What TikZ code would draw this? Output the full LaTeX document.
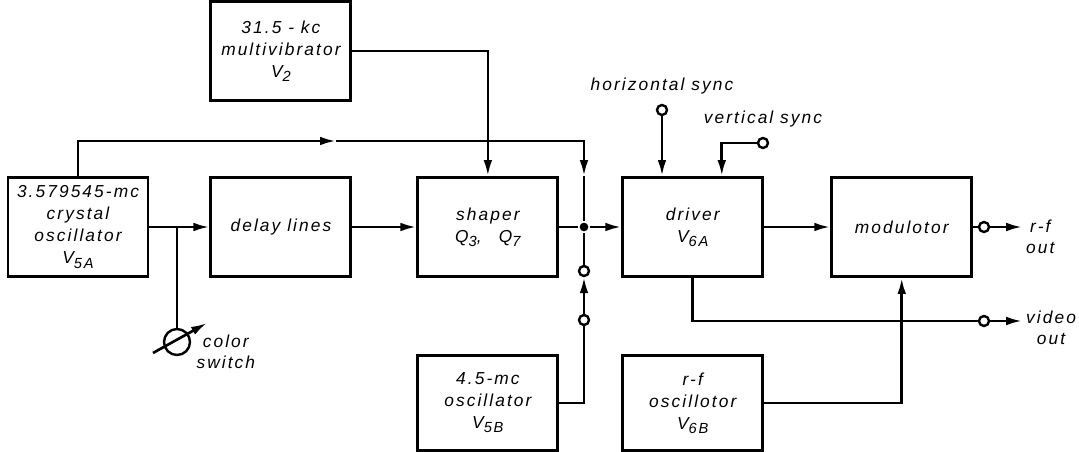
\documentclass[tikz,border=0pt]{standalone}
\usepackage{fontspec}
\newfontfamily\letfont{Liberation Sans}[LetterSpace=12]
\usetikzlibrary{arrows.meta, positioning, calc}
\newcommand\lowidx[1]{\raisebox{-0.45ex}{\fontsize{11}{11}\selectfont #1}}

\begin{document}
\begin{tikzpicture}[
    x=0.75pt, y=0.75pt,
    node distance=46.5pt,
    >={Latex[length=12pt,width=6.5pt]},
    line width=2pt,
    block/.style={
        rectangle,
        draw,
        line width=2.2pt,
        minimum width=105pt,
        minimum height=74.25pt,
        align=center,
        inner sep=2pt,
        font=\letfont\itshape\fontsize{13}{16.5}\selectfont
    },
    lowblock/.style={block, minimum height=71.25pt},
    term/.style={circle, draw, fill=white, line width=1.8pt, inner sep=0pt, minimum size=7.5pt},
    dot/.style={circle, fill, inner sep=0pt, minimum size=6.5pt},
    lbl/.style={align=center, inner sep=1pt, font=\letfont\itshape\fontsize{13}{15.5}\selectfont}
]
\useasboundingbox (0,0) rectangle (1079,-452);

% main signal row
\node[block] (crystal) at (78,-227) {3.579545-mc\\crystal\\oscillator\\V\lowidx{5A}};
\node[block, right=45pt of crystal] (delay) {delay lines};
\node[block, right=48pt of delay] (shaper) {shaper\\Q\lowidx{3},\quad Q\lowidx{7}};
\node[block, right=46.5pt of shaper] (driver) {driver\\V\lowidx{6A}};
\node[block, right=49.5pt of driver] (modulator) {modulotor};

% boxes feeding the row
\node[block, above=55.5pt of delay] (multivib) {31.5 - kc\\multivibrator\\V\lowidx{2}};
\node[lowblock, below=57pt of shaper] (osc45) {4.5-mc\\oscillator\\V\lowidx{5B}};
\node[lowblock, below=57pt of driver] (rfosc) {r-f\\oscillotor\\V\lowidx{6B}};

% terminals and junctions
\node[dot] (junc) at (584,-227) {};
\node[term] (swup) at (584,-271) {};
\node[term] (swlow) at (584,-320) {};
\node[term] (hsync) at (662,-110) {};
\node[term] (vsync) at (763,-143) {};
\node[term] (rfterm) at (984,-227) {};
\node[term] (vidterm) at (984,-321) {};
\node[term, minimum size=19.5pt] (cswitch) at (177,-342) {};
\coordinate[right=24pt of rfterm] (rfend);
\coordinate[right=24pt of vidterm] (vidend);
\coordinate (cbranch) at (cswitch |- crystal.east);
\coordinate (topmark) at (336,-141);
\coordinate (cswtail) at ($(cswitch)+(-24,-11)$);
\coordinate (cswhead) at ($(cswitch)+(30,19)$);

% labels
\node[lbl, above=5pt of hsync] (hsynclbl) {horizontal sync};
\node[lbl, above=5pt of vsync] (vsynclbl) {vertical sync};
\node[lbl, right=1pt of rfend, yshift=-7.5pt] (rflbl) {r-f\\out};
\node[lbl, right=1pt of vidend, yshift=-5pt] (vidlbl) {video\\out};
\node[lbl, right=2pt of cswitch, yshift=-7.5pt] (cswlbl) {color\\switch};

% connections
\draw[->] (crystal) -- (delay);
\draw (cbranch) -- (cswitch);
\draw[->] (cswtail) -- (cswhead);
\draw[->] (delay) -- (shaper);
\draw[->] (multivib) -| (shaper);
\draw[->] (crystal) |- (topmark);
\draw[->] (topmark) -| (junc |- driver.north);
\draw (junc |- driver.north) -- (junc);
\draw (shaper) -- (junc);
\draw[->] (junc) -- (driver);
\draw (osc45) -| (swlow);
\draw[->] (swlow) -- (swup);
\draw (swup) -- (junc);
\draw[->] (hsync) -- (hsync |- driver.north);
\draw[->] (vsync) -| ([xshift=21.75pt]driver.north);
\draw[->] (driver) -- (modulator);
\draw (modulator) -- (rfterm);
\draw[->] (rfterm) -- (rfend);
\draw (driver) |- (vidterm);
\draw[->] (vidterm) -- (vidend);
\draw[->] (rfosc) -| (modulator);

\end{tikzpicture}
\end{document}
